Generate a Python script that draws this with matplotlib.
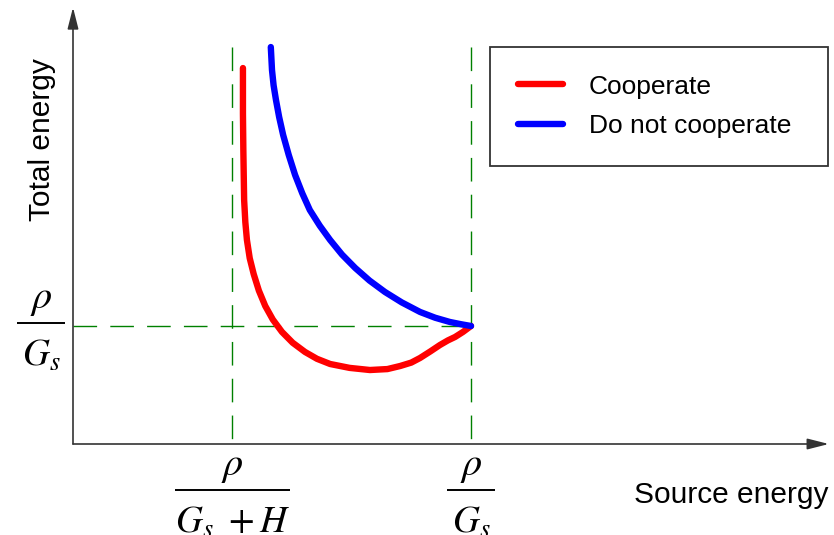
import matplotlib
matplotlib.use("Agg")
import matplotlib.pyplot as plt

plt.rcParams["font.family"] = ["Liberation Sans", "DejaVu Sans"]
plt.rcParams["mathtext.fontset"] = "stix"

# schematic values, x in units of rho/Gs, y in units of rho/Gs
x_low = 0.40   # rho / (Gs + H)
x_high = 1.0   # rho / Gs
y_ref = 1.0    # rho / Gs on the total energy axis

coop_x = [0.427, 0.427, 0.428, 0.430, 0.433, 0.437, 0.444, 0.454, 0.467, 0.483, 0.502,
          0.525, 0.552, 0.583, 0.613, 0.646, 0.695, 0.746, 0.790, 0.822, 0.850, 0.872,
          0.898, 0.922, 0.942, 0.960, 0.980, 1.0]
coop_y = [3.186, 2.800, 2.492, 2.068, 1.880, 1.729, 1.575, 1.440, 1.300, 1.170, 1.055,
          0.950, 0.858, 0.780, 0.722, 0.678, 0.645, 0.627, 0.635, 0.661, 0.690, 0.729,
          0.785, 0.839, 0.878, 0.907, 0.950, 1.0]

nocoop_x = [0.497, 0.500, 0.504, 0.510, 0.518, 0.528, 0.542, 0.558, 0.576, 0.595, 0.620,
            0.646, 0.676, 0.709, 0.745, 0.784, 0.826, 0.872, 0.910, 0.947, 0.975, 1.0]
nocoop_y = [3.364, 3.169, 3.040, 2.915, 2.770, 2.619, 2.450, 2.280, 2.125, 1.983, 1.850,
            1.729, 1.605, 1.492, 1.385, 1.288, 1.200, 1.119, 1.070, 1.034, 1.015, 1.0]

fig = plt.figure(figsize=(8.34, 5.35), dpi=100)
ax = fig.add_axes([0, 0, 1, 1])
ax.set_xlim(-73 / 398, (834 - 73) / 398)
ax.set_ylim(-91 / 118, 444 / 118)
ax.axis("off")

# axes with arrows
axis_col = "#333333"
arrow = dict(arrowstyle="-|>,head_length=1.3,head_width=0.33", color=axis_col, lw=1.2,
             shrinkA=0, shrinkB=0)
ax.annotate("", xy=(1.899, 0), xytext=(0, 0), arrowprops=arrow)
ax.annotate("", xy=(0, 3.70), xytext=(0, 0), arrowprops=arrow)

# dashed guides
guide = dict(color="#008000", lw=1.0, dashes=(17, 9.5))
ax.plot([x_low, x_low], [3.364, 0], **guide)
ax.plot([x_high, x_high], [3.364, 0], **guide)
ax.plot([0, x_high], [y_ref, y_ref], **guide)

ax.plot(coop_x, coop_y, color="#ff0000", lw=4.6, solid_capstyle="round",
        solid_joinstyle="round", label="Cooperate")
ax.plot(nocoop_x, nocoop_y, color="#0000ff", lw=4.6, solid_capstyle="round",
        solid_joinstyle="round", label="Do not cooperate")

ax.text(-0.078, 2.576, "Total energy", rotation=90, fontsize=21.5, ha="center", va="center")
ax.text(1.897, -0.43, "Source energy", fontsize=21.5, ha="right", va="center")


def frac(xc, bar_y, half_w, denom):
    # numerator, fraction bar, denominator drawn separately
    ax.plot([xc - half_w, xc + half_w], [bar_y, bar_y], color="black", lw=1.4,
            solid_capstyle="butt")
    ax.text(xc, bar_y + 0.045, r"$\rho$", fontsize=29, ha="center", va="bottom")
    ax.text(xc, bar_y - 0.125, denom, fontsize=27, ha="center", va="top")


frac(-0.0804, 1.025, 0.0603, r"$G_s$")
frac(0.4008, -0.390, 0.1445, r"$G_s\ +H$")
frac(1.0, -0.390, 0.0603, r"$G_s$")

leg = ax.legend(loc="upper left", bbox_to_anchor=(490 / 834, 1 - 166 / 535, 338 / 834, 119 / 535),
                mode="expand", borderaxespad=0, fontsize=19, handlelength=1.7,
                handletextpad=1.0, labelspacing=0.58, borderpad=1.05, fancybox=False)
leg.get_frame().set_edgecolor("black")
leg.get_frame().set_linewidth(1.3)

fig.savefig("out.png", dpi=100)
